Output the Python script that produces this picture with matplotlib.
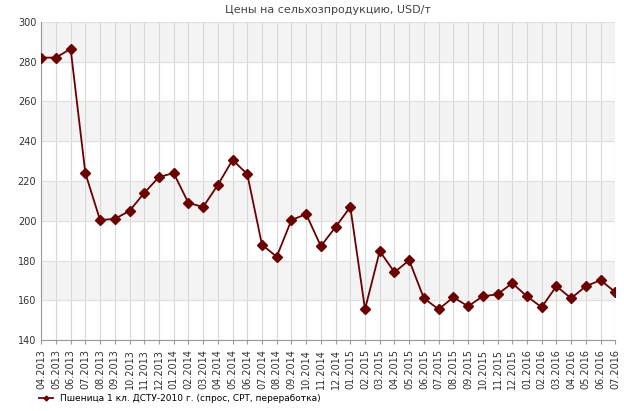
import matplotlib
matplotlib.use('Agg')
import matplotlib.pyplot as plt
import numpy as np

months = ['04.2013', '05.2013', '06.2013', '07.2013', '08.2013', '09.2013', '10.2013', '11.2013',
          '12.2013', '01.2014', '02.2014', '03.2014', '04.2014', '05.2014', '06.2014', '07.2014',
          '08.2014', '09.2014', '10.2014', '11.2014', '12.2014', '01.2015', '02.2015', '03.2015',
          '04.2015', '05.2015', '06.2015', '07.2015', '08.2015', '09.2015', '10.2015', '11.2015',
          '12.2015', '01.2016', '02.2016', '03.2016', '04.2016', '05.2016', '06.2016', '07.2016']
prices = [282, 282, 286.4, 224, 200.4, 201, 205, 214, 222, 224, 209, 207, 218, 230.6, 223.5, 188,
          182, 200.4, 203.4, 187.3, 196.9, 207, 155.6, 184.8, 174.2, 180.2, 161.1, 155.6, 161.6,
          157.1, 162.1, 163.1, 168.7, 162.1, 156.6, 167.2, 161.1, 167.2, 170.2, 164.2]

fig = plt.figure(figsize=(6.24, 4.11), dpi=100)
ax = fig.add_axes([0.066, 0.172, 0.92, 0.775])
x = np.arange(len(months))

# alternating bands
for lo in range(140, 300, 20):
    if (lo // 20) % 2 == 0:
        ax.axhspan(lo, lo + 20, color='#f3f3f3', zorder=0)

ax.plot(x, prices, color='#6b0000', lw=1.3, marker='D', ms=5, zorder=3,
        label='Пшеница 1 кл. ДСТУ-2010 г. (спрос, СРТ, переработка)')

ax.set_xlim(0, len(months) - 1)
ax.set_ylim(140, 300)
ax.set_yticks(range(140, 301, 20))
ax.set_xticks(x)
ax.set_xticklabels(months, rotation=90, fontsize=7, color='#333333')
ax.tick_params(axis='y', labelsize=7, colors='#333333', length=0)
ax.tick_params(axis='x', length=3, color='#999999')
ax.grid(axis='x', color='#d8d8d8', lw=0.8, zorder=1)
ax.grid(axis='y', color='#e0e0e0', lw=0.8, zorder=1)
for s in ['top', 'right']:
    ax.spines[s].set_visible(False)
ax.spines['left'].set_color('#999999')
ax.spines['bottom'].set_color('#999999')

ax.set_title('Цены на сельхозпродукцию, USD/т', fontsize=8, color='#444444', pad=6)
fig.legend(loc='lower left', bbox_to_anchor=(0.05, 0.0), frameon=False, fontsize=6.5,
           markerscale=0.5, handlelength=1.5)

fig.savefig('out.png', dpi=100)
